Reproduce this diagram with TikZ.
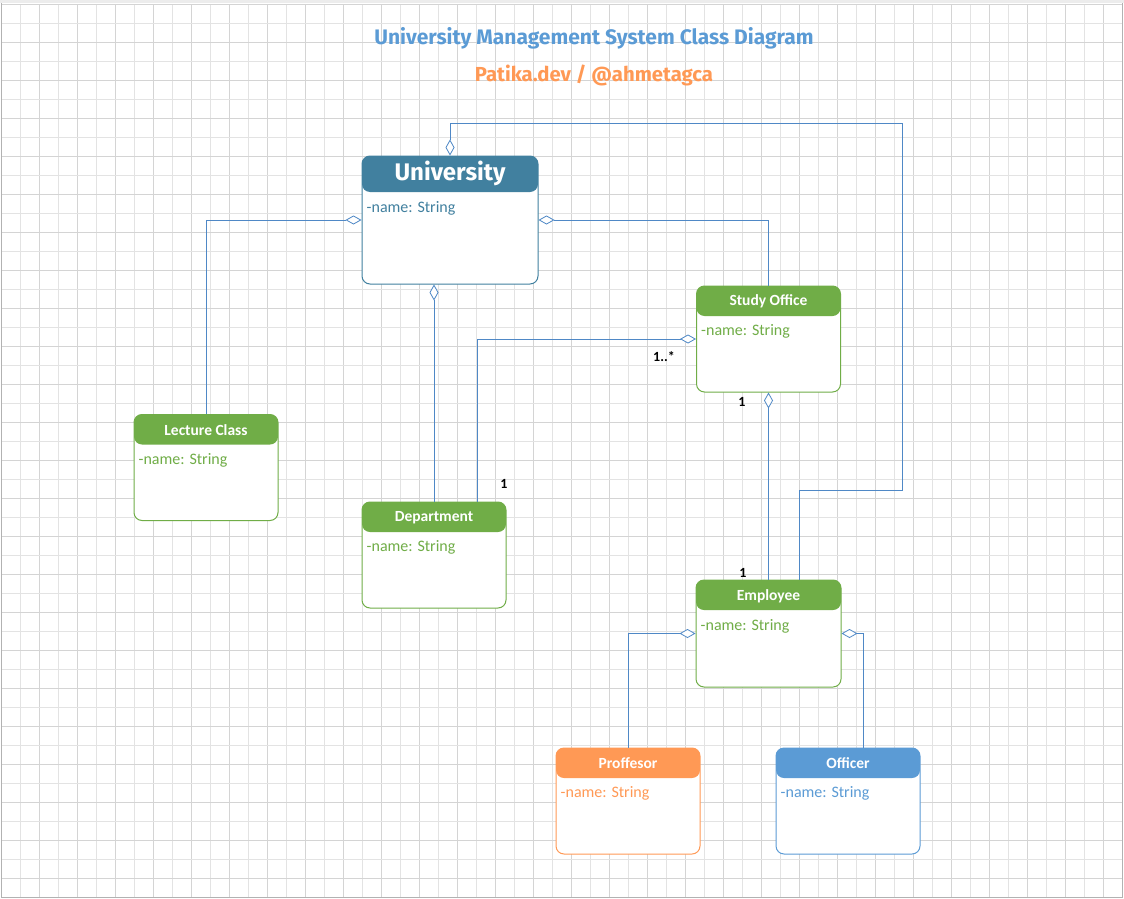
\documentclass[tikz,border=0pt]{standalone}
\usepackage{fontspec}
\setmainfont{Carlito}
\newfontfamily\titfont{Fira Sans}
\usetikzlibrary{arrows.meta,positioning,calc}
\definecolor{cteal}{HTML}{41809F}
\definecolor{cverde}{HTML}{70AD47}
\definecolor{cnaranja}{HTML}{FF9955}
\definecolor{cazul}{HTML}{5B9BD5}
\definecolor{clinea}{HTML}{4F88C6}
\definecolor{cgrid}{HTML}{E3E3E3}
\definecolor{cgridb}{HTML}{D4D4D4}
\tikzset{
  clase/.style={draw=#1,fill=white,line width=1pt,rounded corners=8pt,
                minimum width=144pt,minimum height=106pt,inner sep=0pt,
                path picture={\fill[#1] (path picture bounding box.north west)
                  rectangle ([yshift=-30pt]path picture bounding box.north east);}},
  claseu/.style={clase=cteal,minimum width=176pt,minimum height=128pt,
                path picture={\fill[cteal] (path picture bounding box.north west)
                  rectangle ([yshift=-36pt]path picture bounding box.north east);}},
  cab/.style={text=white,font=\fontsize{15.5}{18}\selectfont\bfseries,inner sep=0pt},
  attr/.style={text=#1,font=\fontsize{16}{19}\selectfont,anchor=west,inner sep=0pt},
  agreg/.style={draw=clinea,line width=0.9pt,
                -{Diamond[length=16pt,width=9pt,fill=white,line width=0.8pt]}},
  mult/.style={font=\fontsize{14}{16}\selectfont\bfseries,inner sep=0pt},
}
\begin{document}
\begin{tikzpicture}[x=1pt,y=-1pt]
\useasboundingbox (0,0) rectangle (1124,899);
% fondo cuadriculado
\fill[white] (0,0) rectangle (1124,899);
\foreach \k in {0,...,59}{
  \pgfmathsetmacro\xx{1.3+19*\k}
  \ifodd\k \draw[cgrid,line width=0.8pt] (\xx,4.3) -- (\xx,897.3);
  \else \draw[cgridb,line width=0.8pt] (\xx,4.3) -- (\xx,897.3); \fi}
\foreach \k in {0,...,47}{
  \pgfmathsetmacro\yy{4.3+19*\k}
  \ifodd\k \draw[cgrid,line width=0.8pt] (1.3,\yy) -- (1122.3,\yy);
  \else \draw[cgridb,line width=0.8pt] (1.3,\yy) -- (1122.3,\yy); \fi}
\fill[gray!15] (0,0) rectangle (1124,3.5);
\draw[gray!60,line width=1pt] (1.3,3.5) -- (1.3,897.3) -- (1122.3,897.3) -- (1122.3,3.5);

% titulos
\node[text=cazul,font=\titfont\fontsize{21}{23}\selectfont\bfseries] (titulo) at (594,38)
  {University Management System Class Diagram};
\node[text=cnaranja,font=\titfont\fontsize{20.3}{22}\selectfont\bfseries] (autor) at (594,75)
  {Patika.dev / @ahmetagca};

% clases
\node[claseu] (uni) at (450,220) {};
\node[clase=cverde] (ofi) at (768.5,339) {};
\node[clase=cverde] (lec) at (206,467.5) {};
\node[clase=cverde] (dep) at (434,555) {};
\node[clase=cverde,minimum width=145pt,minimum height=107pt] (emp) at (768.5,633.5) {};
\node[clase=cnaranja] (prof) at (628,801) {};
\node[clase=cazul] (ofc) at (848,801) {};

\node[cab,text=white,font=\titfont\fontsize{24}{26}\selectfont\bfseries] at ([yshift=-18pt]uni.north) {University};
\node[attr=cteal] at ([xshift=5pt,yshift=-53pt]uni.north west) {-name: String};
\node[cab] at ([yshift=-16pt]ofi.north) {Study Office};
\node[attr=cverde] at ([xshift=5pt,yshift=-46pt]ofi.north west) {-name: String};
\node[cab] at ([yshift=-16pt]lec.north) {Lecture Class};
\node[attr=cverde] at ([xshift=5pt,yshift=-46pt]lec.north west) {-name: String};
\node[cab] at ([yshift=-16pt]dep.north) {Department};
\node[attr=cverde] at ([xshift=5pt,yshift=-46pt]dep.north west) {-name: String};
\node[cab] at ([yshift=-17pt]emp.north) {Employee};
\node[attr=cverde] at ([xshift=5pt,yshift=-47pt]emp.north west) {-name: String};
\node[cab] at ([yshift=-16pt]prof.north) {Proffesor};
\node[attr=cnaranja] at ([xshift=5pt,yshift=-46pt]prof.north west) {-name: String};
\node[cab] at ([yshift=-16pt]ofc.north) {Officer};
\node[attr=cazul] at ([xshift=5pt,yshift=-46pt]ofc.north west) {-name: String};

% agregaciones
\coordinate (r1) at (902,490);
\coordinate (r2) at (902,123);
\draw[agreg] (lec.north) |- (uni.west);
\draw[agreg] (dep.north) -- (dep.north |- uni.south);
\draw[agreg] (ofi.north) |- (uni.east);
\draw[agreg] ([xshift=43pt]dep.north) |- (ofi.west);
\draw[agreg] (emp.north) -- (ofi.south);
\draw[agreg] ([xshift=31pt]emp.north) |- (r1) -- (r2) -| (uni.north);
\draw[agreg] (prof.north) |- (emp.west);
\draw[agreg] ([xshift=15pt]ofc.north) |- (emp.east);

% multiplicidades
\node[mult] (m1) at (504,484) {1};
\node[mult] (m2) at (664,357) {1..*};
\node[mult] (m3) at (742,402) {1};
\node[mult] (m4) at (743,573) {1};

\end{tikzpicture}
\end{document}
